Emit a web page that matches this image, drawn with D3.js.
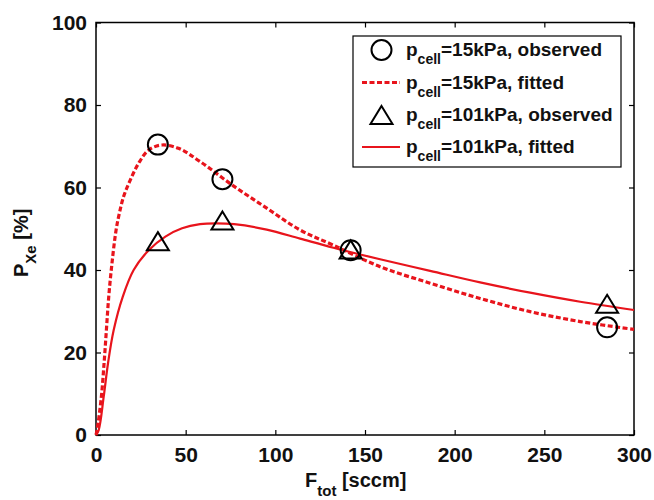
<!DOCTYPE html>
<html><head><meta charset="utf-8">
<script src="https://cdn.jsdelivr.net/npm/d3@7"></script>
<style>
html,body{margin:0;padding:0;background:#fff;}
svg{display:block;font-family:"Liberation Sans",Arial,sans-serif;font-weight:bold;}
</style></head>
<body>
<svg id="c" width="654" height="500"></svg>
<script>
// Observed data
const flowObs = [34.5, 70.5, 142, 285];
const obs15 = [70.4, 62, 44.8, 26.1];
const obs101 = [47, 52, 45, 31.8];
// Fitted curves
const fit15X = [0, 0.6, 3, 4.5, 5.8, 7.1, 8.9, 11.2, 13, 15.4, 19.1, 23.8, 29.4, 36.8, 46, 58, 76.6, 95.2, 113.8, 132.4, 158.4, 186.3, 214.2, 242.1, 270, 300];
const fit15Y = [0, 1.2, 9.3, 17.4, 25.5, 33.5, 41.6, 49.7, 53.7, 57.8, 61.8, 65.9, 69.1, 70.3, 69.5, 66.3, 60.4, 55, 49.7, 46, 40.8, 36.8, 33.1, 29.9, 27.5, 25.6];
const fit101X = [0, 1.5, 4.3, 6.7, 9.9, 14.9, 21, 29.4, 38.7, 48, 58, 67, 77, 95.2, 113.8, 132.4, 158.4, 186.3, 214.2, 242.1, 270, 300];
const fit101Y = [0, 1.2, 9.3, 17.4, 25.5, 33.5, 40, 44.8, 48.1, 50.1, 51.1, 51.3, 51.1, 49.8, 47.6, 45.4, 42.6, 39.8, 37.0, 34.5, 32.3, 30.3];
const xTicks = [0, 50, 100, 150, 200, 250, 300];
const yTicks = [0, 20, 40, 60, 80, 100];
const legendLabels = ["=15kPa, observed", "=15kPa, fitted", "=101kPa, observed", "=101kPa, fitted"];

const RED = "#e8141c";
const svg = d3.select("#c");
const L = 96, R = 634, T = 22.5, B = 435;
const x = d3.scaleLinear().domain([0, 300]).range([L, R]);
const y = d3.scaleLinear().domain([0, 100]).range([B, T]);

// frame
svg.append("rect").attr("x", L).attr("y", T).attr("width", R - L).attr("height", B - T)
  .attr("fill", "none").attr("stroke", "#000").attr("stroke-width", 1.5);

// axes with inner ticks
const gx = svg.append("g").attr("transform", `translate(0,${B})`)
  .call(d3.axisBottom(x).tickValues(xTicks).tickSizeInner(-5).tickSizeOuter(0).tickPadding(12));
const gxt = svg.append("g").attr("transform", `translate(0,${T})`)
  .call(d3.axisTop(x).tickValues(xTicks).tickSizeInner(-5).tickSizeOuter(0).tickFormat(""));
const gy = svg.append("g").attr("transform", `translate(${L},0)`)
  .call(d3.axisLeft(y).tickValues(yTicks).tickSizeInner(-5).tickSizeOuter(0).tickPadding(9));
const gyr = svg.append("g").attr("transform", `translate(${R},0)`)
  .call(d3.axisRight(y).tickValues(yTicks).tickSizeInner(-5).tickSizeOuter(0).tickFormat(""));
[gx, gxt, gy, gyr].forEach(g => {
  g.select(".domain").remove();
  g.selectAll("line").attr("stroke", "#000").attr("stroke-width", 1.2);
  g.selectAll("text").attr("font-size", 21).attr("font-weight", "bold")
    .attr("font-family", '"Liberation Sans",Arial,sans-serif').attr("fill", "#111");
});

// curves
const line = d3.line().x(d => x(d[0])).y(d => y(d[1])).curve(d3.curveCatmullRom.alpha(0.5));
svg.append("path").datum(fit101X.map((v, i) => [v, fit101Y[i]]))
  .attr("d", line).attr("fill", "none").attr("stroke", RED).attr("stroke-width", 2.2);
svg.append("path").datum(fit15X.map((v, i) => [v, fit15Y[i]]))
  .attr("d", line).attr("fill", "none").attr("stroke", RED).attr("stroke-width", 3.2)
  .attr("stroke-dasharray", "5,2.5");

// markers
function triPath(cx, cy, w, h) {
  return `M${cx},${cy - h / 2}L${cx + w / 2},${cy + h / 2}L${cx - w / 2},${cy + h / 2}Z`;
}
svg.append("g").selectAll("circle").data(flowObs).join("circle")
  .attr("cx", (d) => x(d)).attr("cy", (d, i) => y(obs15[i])).attr("r", 10)
  .attr("fill", "none").attr("stroke", "#000").attr("stroke-width", 2);
svg.append("g").selectAll("path").data(flowObs).join("path")
  .attr("d", (d, i) => triPath(x(d), y(obs101[i]), 22, 18))
  .attr("fill", "none").attr("stroke", "#000").attr("stroke-width", 2).attr("stroke-linejoin", "miter");

// axis labels
const xl = svg.append("text").attr("x", 305).attr("y", 487).attr("font-size", 20).attr("fill", "#111");
xl.append("tspan").text("F");
xl.append("tspan").attr("font-size", 15).attr("dy", 9).text("tot");
xl.append("tspan").attr("dy", -9).text(" [sccm]");

const yl = svg.append("text").attr("transform", "translate(28,277) rotate(-90)").attr("font-size", 20).attr("fill", "#111");
yl.append("tspan").text("P");
yl.append("tspan").attr("font-size", 15).attr("dy", 8).text("Xe");
yl.append("tspan").attr("dy", -8).text(" [%]");

// legend
const lg = svg.append("g");
lg.append("rect").attr("x", 353).attr("y", 36).attr("width", 268).attr("height", 131)
  .attr("fill", "#fff").attr("stroke", "#000").attr("stroke-width", 1.2);
const rowY = [50, 82.5, 115, 147];
lg.append("circle").attr("cx", 381.5).attr("cy", rowY[0]).attr("r", 10)
  .attr("fill", "none").attr("stroke", "#000").attr("stroke-width", 2);
lg.append("line").attr("x1", 362).attr("x2", 400).attr("y1", rowY[1]).attr("y2", rowY[1])
  .attr("stroke", RED).attr("stroke-width", 3.2).attr("stroke-dasharray", "5,2.5");
lg.append("path").attr("d", triPath(381.5, rowY[2], 22, 18))
  .attr("fill", "none").attr("stroke", "#000").attr("stroke-width", 2);
lg.append("line").attr("x1", 362).attr("x2", 400).attr("y1", rowY[3]).attr("y2", rowY[3])
  .attr("stroke", RED).attr("stroke-width", 2.2);
legendLabels.forEach((lab, i) => {
  const t = lg.append("text").attr("x", 406).attr("y", rowY[i] + 6).attr("font-size", 19).attr("fill", "#111");
  t.append("tspan").text("p");
  t.append("tspan").attr("font-size", 14).attr("dy", 8).text("cell");
  t.append("tspan").attr("dy", -8).text(lab);
});
</script>
</body></html>
